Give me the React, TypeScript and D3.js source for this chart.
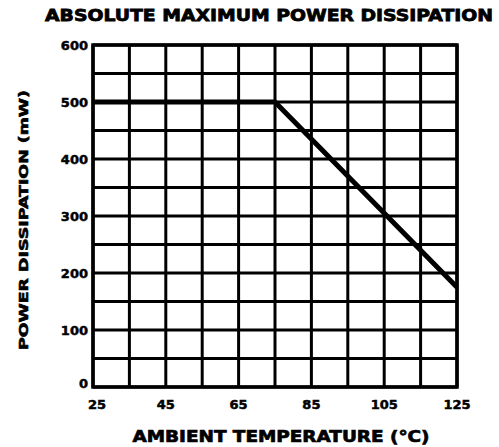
import * as d3 from "d3";

const tempC = [25, 75, 125];
const powerMW = [500, 500, 175];
const xTicks = [25, 45, 65, 85, 105, 125];
const yTicks = [0, 100, 200, 300, 400, 500, 600];
const yTickLabels = ["0", "100", "200", "300", "400", "500", "600"];

export default function App() {
  const width = 499;
  const height = 447;
  const left = 93, right = 457, top = 45, bottom = 387;

  const x = d3.scaleLinear().domain([25, 125]).range([left, right]);
  const y = d3.scaleLinear().domain([0, 600]).range([bottom, top]);
  const line = d3.line<number>().x((d, i) => x(tempC[i])).y((d) => y(d));

  const xGrid = d3.range(25, 126, 10);
  const yGrid = d3.range(0, 601, 50);
  const font = "'DejaVu Sans', sans-serif";

  return (
    <svg width={width} height={height} style={{ position: "absolute", left: 0, top: 0, background: "#fff" }}>
      <text x={45} y={21} fontFamily={font} fontWeight="bold" fontSize={16} stroke="#000" strokeWidth={0.8} textLength={448} lengthAdjust="spacingAndGlyphs">
        ABSOLUTE MAXIMUM POWER DISSIPATION
      </text>
      <g stroke="#000" strokeWidth={3}>
        {xGrid.map((v) => (
          <line key={"x" + v} x1={x(v)} x2={x(v)} y1={top} y2={bottom} />
        ))}
        {yGrid.map((v) => (
          <line key={"y" + v} x1={left} x2={right} y1={y(v)} y2={y(v)} />
        ))}
      </g>
      <rect x={left} y={top} width={right - left} height={bottom - top} fill="none" stroke="#000" strokeWidth={3.5} />
      <path d={line(powerMW) || ""} fill="none" stroke="#000" strokeWidth={5} strokeLinejoin="miter" />
      <g fontFamily={font} fontWeight="bold" fontSize={13} fill="#000" stroke="#000" strokeWidth={0.5}>
        {yTicks.map((v, i) => (
          <text key={v} x={left - 5} y={y(v) + (v === 0 ? 1 : 5)} textAnchor="end">
            {yTickLabels[i]}
          </text>
        ))}
        {xTicks.map((v) => (
          <text key={v} x={x(v) + (v === 25 ? 4 : 0)} y={409} textAnchor="middle">
            {v}
          </text>
        ))}
      </g>
      <text x={281} y={442} fontFamily={font} fontWeight="bold" fontSize={16} stroke="#000" strokeWidth={0.7} textAnchor="middle" textLength={297} lengthAdjust="spacingAndGlyphs">
        AMBIENT TEMPERATURE (°C)
      </text>
      <text transform="translate(28,220) rotate(-90)" fontFamily={font} fontWeight="bold" fontSize={13} stroke="#000" strokeWidth={0.6} textAnchor="middle" textLength={260} lengthAdjust="spacingAndGlyphs">
        POWER DISSIPATION (mW)
      </text>
    </svg>
  );
}
